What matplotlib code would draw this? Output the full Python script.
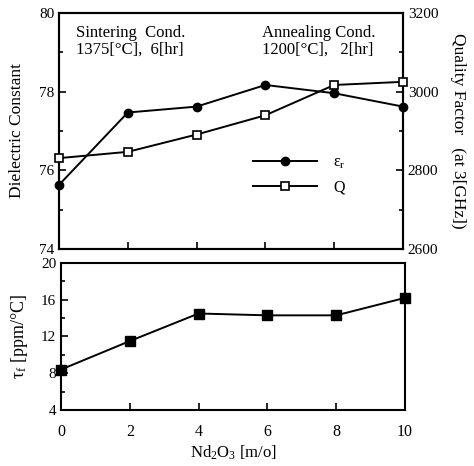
import matplotlib
matplotlib.use("Agg")
import matplotlib.pyplot as plt
from matplotlib.ticker import MultipleLocator, FixedLocator
from matplotlib.lines import Line2D

plt.rcParams['font.family'] = ['Liberation Serif', 'DejaVu Serif']
plt.rcParams['mathtext.fontset'] = 'custom'
plt.rcParams['mathtext.rm'] = 'Liberation Serif'
plt.rcParams['mathtext.it'] = 'Liberation Serif:italic'

nd2o3 = [0, 2, 4, 6, 8, 10]
eps_r = [75.63, 77.47, 77.62, 78.17, 77.96, 77.62]
quality = [2831, 2847, 2891, 2940, 3017, 3025]
tau_f = [8.4, 11.5, 14.5, 14.3, 14.3, 16.2]

fig = plt.figure(figsize=(4.74, 4.66), dpi=100)
ax1 = fig.add_axes([0.1245, 0.4657, 0.7257, 0.5064])
ax2 = ax1.twinx()
ax3 = fig.add_axes([0.1287, 0.1202, 0.7257, 0.3155])

lw = 1.4
for ax in (ax1, ax2, ax3):
    for s in ax.spines.values():
        s.set_linewidth(1.5)

# top panel
ax1.plot(nd2o3, eps_r, color='black', lw=lw, marker='o', ms=6, clip_on=False, zorder=3)
ax2.plot(nd2o3, quality, color='black', lw=lw, marker='s', ms=6, mfc='white', mew=1.2,
         clip_on=False, zorder=3)

ax1.set_xlim(0, 10)
ax1.set_ylim(74, 80)
ax2.set_ylim(2600, 3200)
ax1.yaxis.set_major_locator(MultipleLocator(2))
ax1.yaxis.set_minor_locator(MultipleLocator(1))
ax2.yaxis.set_major_locator(MultipleLocator(200))
ax2.yaxis.set_minor_locator(MultipleLocator(100))
ax1.xaxis.set_major_locator(FixedLocator([2, 4, 6, 8]))
ax1.tick_params(axis='x', direction='in', length=5, width=1.2, labelbottom=False)
ax1.tick_params(axis='y', which='both', direction='in', width=1.2, labelsize=11)
ax1.tick_params(axis='y', which='major', length=5)
ax1.tick_params(axis='y', which='minor', length=3)
ax2.tick_params(axis='y', which='both', direction='in', width=1.2, labelsize=11)
ax2.tick_params(axis='y', which='major', length=5)
ax2.tick_params(axis='y', which='minor', length=3)
ax1.set_ylabel('Dielectric Constant', fontsize=12.5, labelpad=10)
ax2.set_ylabel('Quality Factor   (at 3[GHz])', fontsize=12.5, rotation=-90, labelpad=20)

ax1.text(0.05, 0.95, 'Sintering  Cond.\n1375[\u00b0C],  6[hr]', transform=ax1.transAxes,
         fontsize=12, va='top', ha='left', linespacing=1.1)
ax1.text(0.59, 0.95, 'Annealing Cond.\n1200[\u00b0C],   2[hr]', transform=ax1.transAxes,
         fontsize=12, va='top', ha='left', linespacing=1.1)

handles = [Line2D([], [], color='black', lw=lw, marker='o', ms=6),
           Line2D([], [], color='black', lw=lw, marker='s', ms=6, mfc='white', mew=1.2)]
ax1.legend(handles, ['\u03b5$_\\mathrm{r}$', 'Q'], loc='upper left', bbox_to_anchor=(0.565, 0.40),
           frameon=False, fontsize=11.5, handlelength=4.0, handletextpad=1.0,
           labelspacing=0.55, borderpad=0, borderaxespad=0)

# bottom panel
ax3.plot(nd2o3, tau_f, color='black', lw=lw, marker='s', ms=6.5, clip_on=False, zorder=3)
ax3.set_xlim(0, 10)
ax3.set_ylim(4, 20)
ax3.yaxis.set_major_locator(MultipleLocator(4))
ax3.yaxis.set_minor_locator(MultipleLocator(2))
ax3.xaxis.set_major_locator(MultipleLocator(2))
ax3.tick_params(axis='x', direction='in', length=5, width=1.2, labelsize=11.5, pad=10)
ax3.tick_params(axis='y', which='both', direction='in', width=1.2, labelsize=11)
ax3.tick_params(axis='y', which='major', length=5)
ax3.tick_params(axis='y', which='minor', length=3)
ax3.set_ylabel('\u03c4$_\\mathrm{f}$ [ppm/\u00b0C]', fontsize=13, labelpad=8)
ax3.set_xlabel('Nd$_2$O$_3$ [m/o]', fontsize=12, labelpad=3)

fig.savefig('out.png', dpi=100)
